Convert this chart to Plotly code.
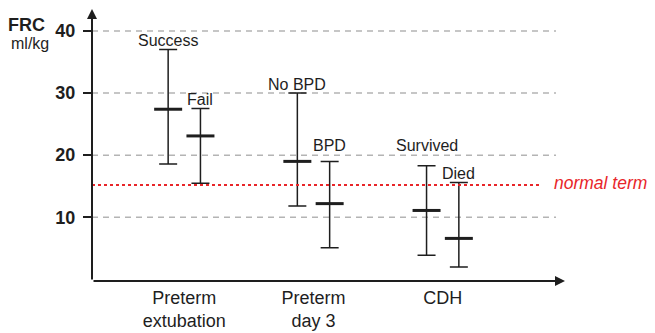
import plotly.graph_objects as go

# ---- data ----
groups = ["Preterm<br>extubation", "Preterm<br>day 3", "CDH"]
group_pos = [1, 2, 3]
left_names = ["Success", "No BPD", "Survived"]
left_mean = [27.4, 19.0, 11.1]
left_hi = [37.0, 30.0, 18.3]
left_lo = [18.6, 11.8, 3.9]
right_names = ["Fail", "BPD", "Died"]
right_mean = [23.1, 12.2, 6.6]
right_hi = [27.5, 19.0, 15.6]
right_lo = [15.5, 5.1, 2.0]
normal_term = 15.2
y_ticks = [10, 20, 30, 40]

offset = 0.125
ink = "#1e1e1e"

fig = go.Figure()

def add_series(names, mean, hi, lo, sign):
    xs = [g + sign * offset for g in group_pos]
    fig.add_trace(go.Scatter(
        x=xs, y=mean, mode="markers",
        marker=dict(symbol="line-ew", size=20, line=dict(width=3, color=ink), color=ink),
        error_y=dict(type="data", symmetric=False,
                     array=[h - m for h, m in zip(hi, mean)],
                     arrayminus=[m - l for m, l in zip(mean, lo)],
                     color=ink, thickness=1.5, width=9),
        showlegend=False, hoverinfo="skip"))
    return xs

lx = add_series(left_names, left_mean, left_hi, left_lo, -1)
rx = add_series(right_names, right_mean, right_hi, right_lo, +1)

# gridlines
for t in y_ticks:
    fig.add_shape(type="line", xref="paper", yref="y", x0=0, x1=0.981, y0=t, y1=t,
                  line=dict(color="#b4b4b4", width=1.5, dash="6px,5px"), layer="below")

# normal term line
fig.add_shape(type="line", xref="paper", yref="y", x0=0, x1=0.947, y0=normal_term, y1=normal_term,
              line=dict(color="#e8262a", width=2, dash="dot"))

font_family = "Liberation Sans, Arial, sans-serif"

# series labels
label_y_left = [38.4, 31.4, 21.6]
label_y_right = [28.9, 21.5, 17.0]
for x, y, name in zip(lx, label_y_left, left_names):
    fig.add_annotation(x=x, y=y, text=name, showarrow=False, xanchor="center", yanchor="middle",
                       font=dict(family=font_family, size=16, color=ink))
for x, y, name in zip(rx, label_y_right, right_names):
    fig.add_annotation(x=x, y=y, text=name, showarrow=False, xanchor="center", yanchor="middle",
                       font=dict(family=font_family, size=16, color=ink))

fig.add_annotation(xref="paper", yref="y", x=0.972, y=15.6, text="<i>normal term</i>",
                   showarrow=False, xanchor="left", yanchor="middle",
                   font=dict(family=font_family, size=17.5, color="#e8262a"))

# axis title
fig.add_annotation(xref="paper", yref="paper", x=-0.138, y=0.938, text="<b>FRC</b>",
                   showarrow=False, xanchor="center", yanchor="middle",
                   font=dict(family=font_family, size=18, color=ink))
fig.add_annotation(xref="paper", yref="paper", x=-0.131, y=0.87, text="ml/kg",
                   showarrow=False, xanchor="center", yanchor="middle",
                   font=dict(family=font_family, size=16, color=ink))

# axis arrows
fig.add_annotation(xref="paper", yref="paper", x=0, y=1, ax=0, ay=273, axref="pixel", ayref="pixel",
                   text="", showarrow=True, arrowhead=2, arrowsize=1, arrowwidth=2, arrowcolor=ink)
fig.add_annotation(xref="paper", yref="paper", x=1, y=0, ax=-473, ay=0, axref="pixel", ayref="pixel",
                   text="", showarrow=True, arrowhead=2, arrowsize=1, arrowwidth=2, arrowcolor=ink)

fig.update_layout(
    width=655, height=333,
    margin=dict(l=84, r=98, t=0, b=60, autoexpand=False),
    plot_bgcolor="white", paper_bgcolor="white",
    font=dict(family=font_family, color=ink),
)
fig.update_xaxes(range=[0.2856, 3.9466], tickvals=group_pos, ticktext=groups, automargin=False,
                 showgrid=False, zeroline=False, showline=False, ticks="",
                 tickfont=dict(size=18, family=font_family, color=ink), ticklabelstandoff=4)
fig.update_yaxes(range=[-0.26, 43.7], tickvals=y_ticks, showgrid=False, zeroline=False, automargin=False,
                 showline=False, ticks="outside", ticklen=8, tickwidth=1.5, tickcolor=ink,
                 tickfont=dict(size=18, family=font_family, color=ink, weight="bold"),
                 ticklabelstandoff=4)

fig.write_html("out.html")
